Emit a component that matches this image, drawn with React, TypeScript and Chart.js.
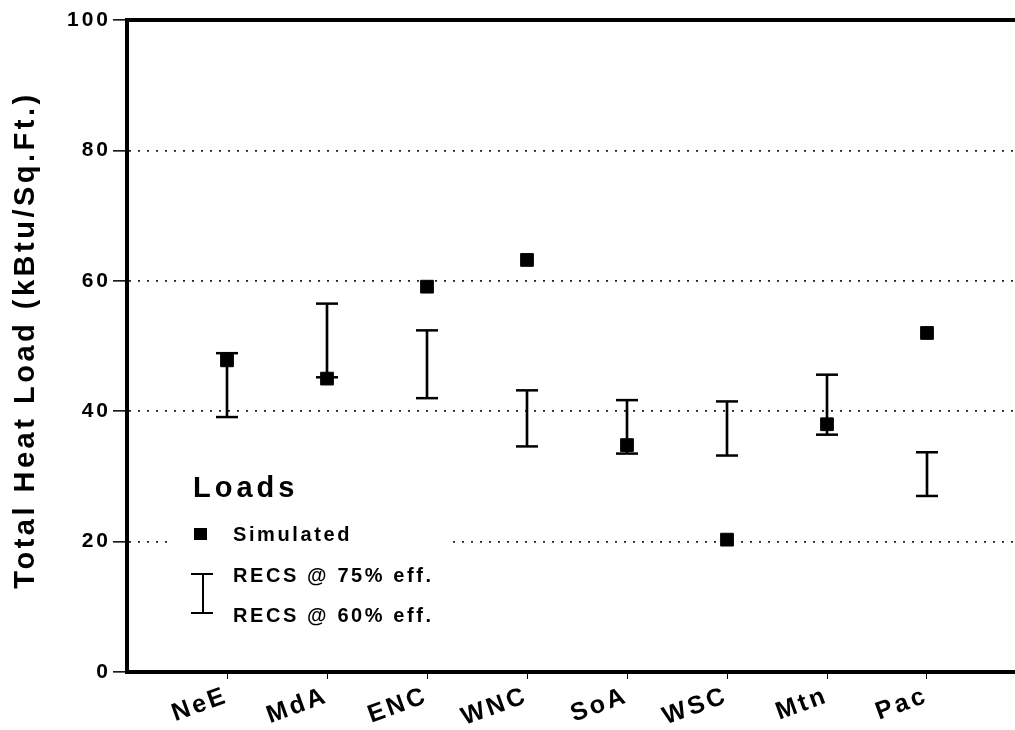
import React, { useEffect, useRef } from 'react';
import { Chart, registerables } from 'chart.js';

Chart.register(...registerables);

const categories = ['NeE', 'MdA', 'ENC', 'WNC', 'SoA', 'WSC', 'Mtn', 'Pac'];
const simulated = [47.8, 45.0, 59.1, 63.2, 34.8, 20.3, 38.0, 52.0];
const recs75 = [48.9, 56.5, 52.4, 43.2, 41.7, 41.5, 45.6, 33.7];
const recs60 = [39.1, 45.2, 42.0, 34.6, 33.5, 33.2, 36.4, 27.0];
const yTickValues = [0, 20, 40, 60, 80, 100];
const yTitle = 'Total Heat Load (kBtu/Sq.Ft.)';
const legendTitle = 'Loads';
const legendLabels = ['Simulated', 'RECS @ 75% eff.', 'RECS @ 60% eff.'];

const FONT = '"Liberation Sans", Arial, Helvetica, sans-serif';

const spacingPlugin = {
  id: 'spacing',
  beforeLayout(chart: any) {
    chart.ctx.letterSpacing = '3px';
  },
  beforeDraw(chart: any) {
    chart.ctx.letterSpacing = '3px';
  },
};

const decorPlugin = {
  id: 'decor',
  beforeDatasetsDraw(chart: any) {
    const ctx = chart.ctx;
    const { left, top } = chart.chartArea;
    const L = left;
    const T = top;
    ctx.save();
    ctx.fillStyle = '#ffffff';
    ctx.fillRect(L + 46, T + 440, 276, 170);
    ctx.fillStyle = '#000';
    ctx.strokeStyle = '#000';
    ctx.textAlign = 'left';
    ctx.textBaseline = 'alphabetic';
    ctx.letterSpacing = '4px';
    ctx.font = `bold 29px ${FONT}`;
    ctx.fillText(legendTitle, L + 66, T + 477);
    ctx.letterSpacing = '2.6px';
    ctx.font = `bold 20px ${FONT}`;
    // square marker
    ctx.fillRect(L + 67, T + 508, 13, 12);
    ctx.fillText(legendLabels[0], L + 106, T + 521);
    // error bar icon
    ctx.lineWidth = 2;
    ctx.beginPath();
    ctx.moveTo(L + 76, T + 554);
    ctx.lineTo(L + 76, T + 593);
    ctx.moveTo(L + 64, T + 554);
    ctx.lineTo(L + 86, T + 554);
    ctx.moveTo(L + 64, T + 593);
    ctx.lineTo(L + 86, T + 593);
    ctx.stroke();
    ctx.fillText(legendLabels[1], L + 106, T + 562);
    ctx.fillText(legendLabels[2], L + 106, T + 602);
    ctx.restore();
  },
  afterDraw(chart: any) {
    const ctx = chart.ctx;
    const { left, right, top, bottom } = chart.chartArea;
    ctx.save();
    ctx.strokeStyle = '#000';
    ctx.lineWidth = 4;
    ctx.beginPath();
    ctx.moveTo(left - 2, top);
    ctx.lineTo(right, top);
    ctx.stroke();
    // y-axis title
    ctx.fillStyle = '#000';
    ctx.letterSpacing = '3.5px';
    ctx.font = `bold 29px ${FONT}`;
    ctx.textAlign = 'center';
    ctx.textBaseline = 'alphabetic';
    ctx.translate(left - 93, (top + bottom) / 2 - 6);
    ctx.rotate(-Math.PI / 2);
    ctx.fillText(yTitle, 0, 0);
    ctx.restore();
  },
};

export default function App() {
  const ref = useRef<HTMLCanvasElement | null>(null);

  useEffect(() => {
    const canvas = ref.current;
    if (!canvas) return;
    const xs = categories.map((_, i) => i + 1);
    const chart = new Chart(canvas, {
      type: 'scatter',
      data: {
        datasets: [
          {
            type: 'scatter',
            label: legendLabels[0],
            data: xs.map((x, i) => ({ x, y: simulated[i] })),
            pointStyle: 'rect',
            pointRadius: 9,
            backgroundColor: '#000',
            borderColor: '#000',
            borderWidth: 1,
            order: 0,
          } as any,
          {
            type: 'scatter',
            label: legendLabels[1],
            data: xs.map((x, i) => ({ x, y: recs75[i] })),
            pointStyle: 'line',
            pointRadius: 11,
            borderColor: '#000',
            borderWidth: 2.5,
            order: 1,
          } as any,
          {
            type: 'scatter',
            label: legendLabels[2],
            data: xs.map((x, i) => ({ x, y: recs60[i] })),
            pointStyle: 'line',
            pointRadius: 11,
            borderColor: '#000',
            borderWidth: 2.5,
            order: 1,
          } as any,
          {
            type: 'bar',
            label: 'range',
            data: xs.map((x, i) => ({ x, y: [recs60[i], recs75[i]] })),
            backgroundColor: '#000',
            borderWidth: 0,
            barThickness: 2,
            order: 2,
          } as any,
        ],
      },
      options: {
        animation: false,
        responsive: false,
        maintainAspectRatio: false,
        events: [],
        layout: { autoPadding: false, padding: { top: 20, right: 0, left: 0, bottom: 0 } },
        plugins: {
          legend: { display: false },
          tooltip: { enabled: false },
          title: { display: false },
        },
        scales: {
          x: {
            type: 'linear',
            min: 0,
            max: 8.88,
            offset: false,
            afterBuildTicks: (scale: any) => {
              scale.ticks = xs.map((v) => ({ value: v }));
            },
            afterFit: (scale: any) => {
              scale.height = 58;
              scale.paddingRight = 0;
              scale.paddingLeft = 0;
            },
            grid: {
              drawOnChartArea: false,
              drawTicks: true,
              tickLength: 7,
              tickColor: '#000',
              tickWidth: 1,
              offset: false,
            },
            border: { display: true, color: '#000', width: 4 },
            ticks: {
              autoSkip: false,
              minRotation: 20,
              maxRotation: 20,
              padding: 2,
              color: '#000',
              font: { family: FONT, size: 25, weight: 'bold' },
              callback: (v: any) => categories[Number(v) - 1] ?? '',
            },
          },
          y: {
            type: 'linear',
            min: 0,
            max: 100,
            afterBuildTicks: (scale: any) => {
              scale.ticks = yTickValues.map((v) => ({ value: v }));
            },
            afterFit: (scale: any) => {
              scale.width = 127;
            },
            grid: {
              drawOnChartArea: true,
              drawTicks: true,
              tickLength: 14,
              tickColor: '#000',
              tickWidth: 1.5,
              lineWidth: 1.7,
              color: (c: any) =>
                c.tick && (c.tick.value === 0 || c.tick.value === 100) ? 'rgba(0,0,0,0)' : '#222',
            },
            border: { display: true, color: '#000', width: 4, dash: [2, 7] },
            ticks: {
              padding: 2,
              color: '#000',
              font: { family: FONT, size: 21, weight: 'bold' },
            },
            title: { display: false },
          },
        },
      },
      plugins: [spacingPlugin, decorPlugin],
    } as any);
    return () => chart.destroy();
  }, []);

  return (
    <div style={{ position: 'fixed', left: 0, top: 0, width: 1015, height: 730, background: '#fff' }}>
      <canvas ref={ref} width={1015} height={730} style={{ width: 1015, height: 730, display: 'block' }} />
    </div>
  );
}
